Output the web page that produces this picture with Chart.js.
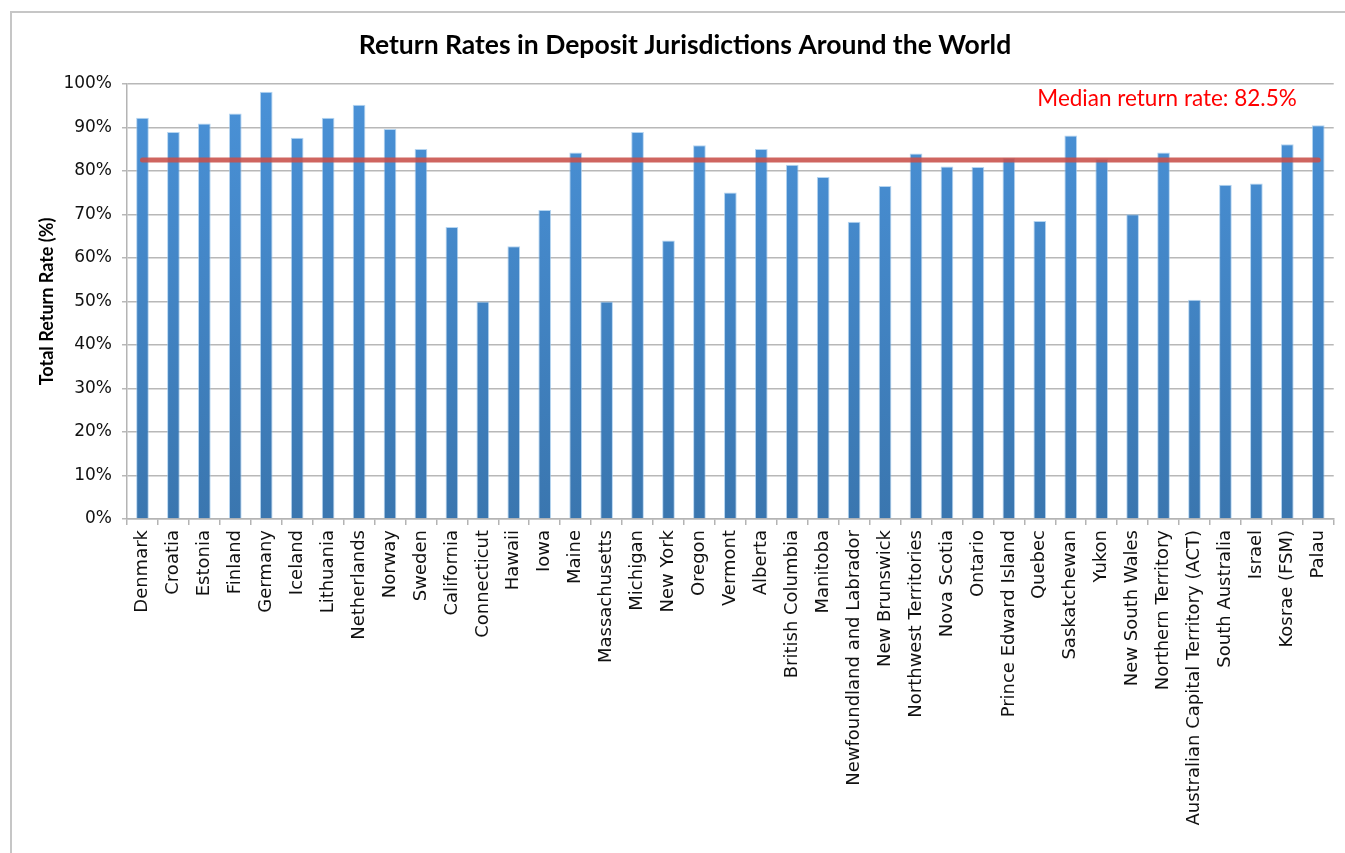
<!DOCTYPE html>
<html>
<head>
<meta charset="utf-8">
<script src="https://cdn.jsdelivr.net/npm/chart.js@4"></script>
<style>
  html, body { margin: 0; padding: 0; background: #fff; }
  canvas { display: block; }
</style>
</head>
<body>
<canvas id="grafik" width="1345" height="853"></canvas>
<script>
const ctx = document.getElementById('grafik').getContext('2d');

// jurisdictions, left to right
const jurisdictions = [
    'Denmark', 'Croatia', 'Estonia', 'Finland', 'Germany', 'Iceland', 'Lithuania',
    'Netherlands', 'Norway', 'Sweden', 'California', 'Connecticut', 'Hawaii', 'Iowa',
    'Maine', 'Massachusetts', 'Michigan', 'New York', 'Oregon', 'Vermont', 'Alberta',
    'British Columbia', 'Manitoba', 'Newfoundland and Labrador', 'New Brunswick',
    'Northwest Territories', 'Nova Scotia', 'Ontario', 'Prince Edward Island', 'Quebec',
    'Saskatchewan', 'Yukon', 'New South Wales', 'Northern Territory',
    'Australian Capital Territory (ACT)', 'South Australia', 'Israel', 'Kosrae (FSM)', 'Palau'
];

// total return rate (%)
const returnRates = [
    92.2, 88.9, 90.9, 93.2, 98.2, 87.6, 92.2,
    95.2, 89.6, 85.0, 67.1, 50.0, 62.7, 71.0,
    84.2, 50.0, 88.9, 64.0, 85.9, 75.0, 85.0,
    81.4, 78.6, 68.3, 76.5,
    84.0, 81.0, 80.9, 83.0, 68.5,
    88.1, 82.7, 70.0, 84.2,
    50.4, 76.8, 77.1, 86.1, 90.5
];

const medianRate = 82.5;
const medianLabel = 'Median return rate: 82.5%';

const yTicks = [0, 10, 20, 30, 40, 50, 60, 70, 80, 90, 100];

// bingkai abu-abu di sekeliling gambar
const framePlugin = {
    id: 'frame',
    beforeDraw(chart) {
        const c = chart.ctx;
        c.save();
        c.fillStyle = '#fff';
        c.fillRect(0, 0, chart.width, chart.height);
        c.strokeStyle = '#c6c6c6';
        c.lineWidth = 2;
        c.strokeRect(11, 12, chart.width + 20, chart.height + 20);
        c.restore();
    }
};

// garis median + teksnya
const medianPlugin = {
    id: 'median',
    afterDatasetsDraw(chart) {
        const c = chart.ctx;
        const x = chart.scales.x;
        const y = chart.scales.y;
        const yy = y.getPixelForValue(medianRate);
        c.save();
        c.strokeStyle = 'rgba(200, 80, 74, 0.88)';
        c.lineWidth = 5;
        c.lineCap = 'round';
        c.beginPath();
        c.moveTo(x.getPixelForValue(0), yy);
        c.lineTo(x.getPixelForValue(jurisdictions.length - 1), yy);
        c.stroke();

        c.fillStyle = '#ff0000';
        c.font = '22.5px Lato';
        c.textAlign = 'right';
        c.textBaseline = 'middle';
        c.fillText(medianLabel, chart.chartArea.right - 37, y.getPixelForValue(96.5));
        c.restore();
    }
};

function barGradient(context) {
    const area = context.chart.chartArea;
    if (!area) return '#4589cc';
    const g = context.chart.ctx.createLinearGradient(0, area.top, 0, area.bottom);
    g.addColorStop(0, '#4a92d8');
    g.addColorStop(1, '#3a76af');
    return g;
}

new Chart(ctx, {
    type: 'bar',
    data: {
        labels: jurisdictions,
        datasets: [{
            label: 'Total Return Rate',
            data: returnRates,
            backgroundColor: barGradient,
            borderColor: 'rgba(150, 195, 235, 0.7)',
            borderWidth: 1,
            barPercentage: 0.41,
            categoryPercentage: 1
        }]
    },
    options: {
        responsive: false,
        devicePixelRatio: 1,
        animation: false,
        layout: { padding: { left: 36, right: 11, top: 0, bottom: 0 } },
        plugins: {
            legend: { display: false },
            tooltip: { enabled: false },
            title: {
                display: true,
                text: 'Return Rates in Deposit Jurisdictions Around the World',
                color: '#000',
                font: { family: 'Lato', size: 26.5, weight: 'bold' },
                padding: { top: 30, bottom: 22 }
            }
        },
        scales: {
            x: {
                type: 'category',
                offset: true,
                grid: {
                    offset: true,
                    drawOnChartArea: false,
                    drawTicks: true,
                    tickLength: 6,
                    color: '#b4b4b4',
                    lineWidth: 1.5
                },
                border: { display: true, color: '#b4b4b4', width: 1.5 },
                ticks: {
                    color: '#111',
                    font: { family: 'DejaVu Sans', size: 18 },
                    minRotation: 90,
                    maxRotation: 90,
                    autoSkip: false,
                    padding: 5
                },
                afterFit(scale) { scale.height = 334; }
            },
            y: {
                min: 0,
                max: 100,
                afterBuildTicks(scale) { scale.ticks = yTicks.map(v => ({ value: v })); },
                grid: {
                    color: '#b8b8b8',
                    lineWidth: 1.5,
                    drawTicks: true,
                    tickLength: 5
                },
                border: { display: true, color: '#b4b4b4', width: 1.5 },
                ticks: {
                    color: '#111',
                    font: { family: 'DejaVu Sans', size: 17 },
                    padding: 10,
                    callback: v => v + '%'
                },
                title: {
                    display: true,
                    text: 'Total Return Rate (%)',
                    color: '#000',
                    font: { family: 'Lato', size: 18, weight: 'bold' },
                    padding: { top: 0, bottom: 0 }
                },
                afterFit(scale) { scale.width = 91; }
            }
        }
    },
    plugins: [framePlugin, medianPlugin]
});
</script>
</body>
</html>
